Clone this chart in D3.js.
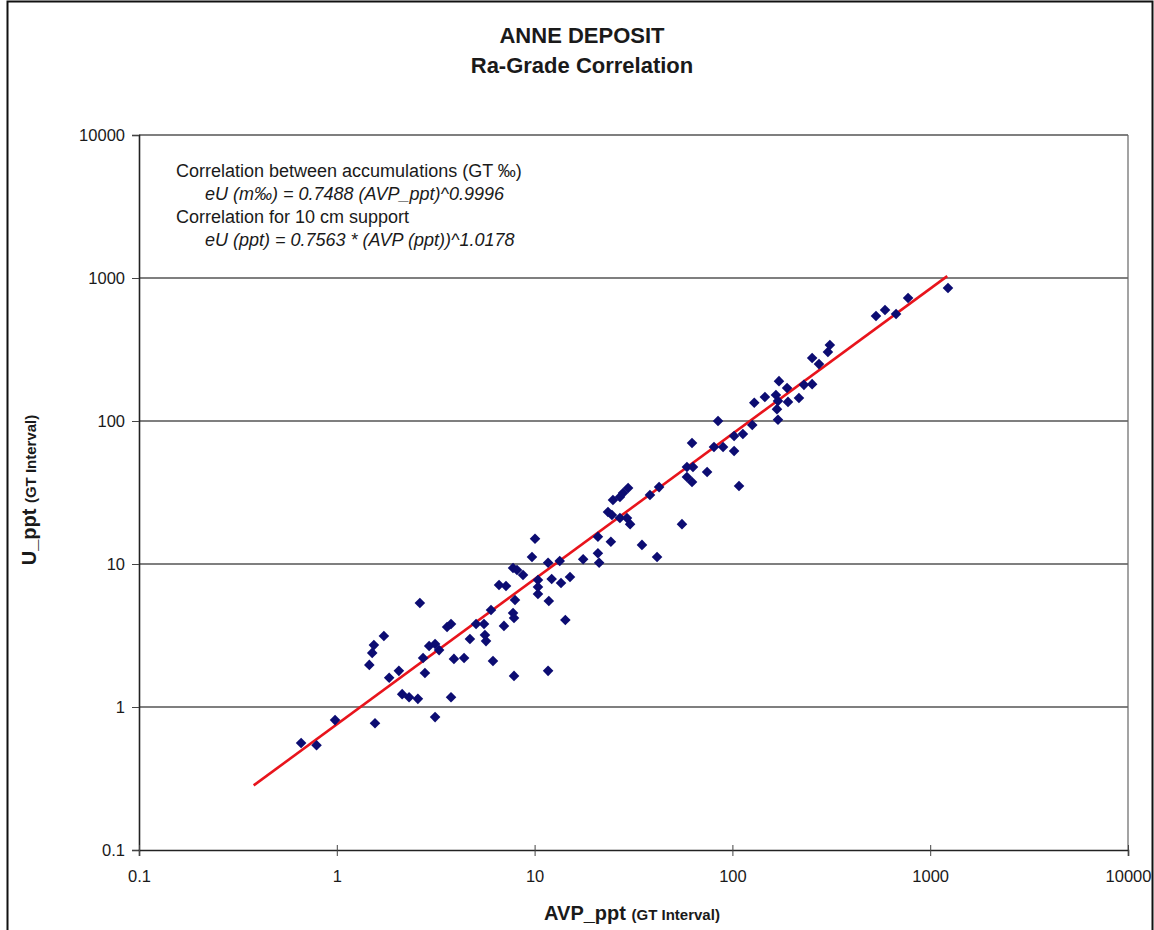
<!DOCTYPE html>
<html>
<head>
<meta charset="utf-8">
<script src="https://cdn.jsdelivr.net/npm/d3@7"></script>
<style>
  body { margin: 0; background: #fff; }
  text { font-family: "Liberation Sans", Arial, sans-serif; fill: #1a1a1a; }
</style>
</head>
<body>
<div id="chart"></div>
<script>
// AVP_ppt (x) vs U_ppt (y)
const avp = [0.66, 0.79, 0.98, 1.56, 1.46, 1.51, 1.54, 1.73, 1.84, 2.06,
  2.14, 2.32, 2.57, 3.14, 2.63, 2.79, 2.73, 2.93, 3.14, 3.29,
  3.61, 3.78, 3.91, 4.40, 3.78, 4.71, 5.06, 5.55, 5.61, 5.68,
  6.16, 7.0, 6.02, 7.78, 7.87, 7.96, 7.87, 6.61, 7.17, 7.78,
  8.15, 8.74, 10.05, 9.7, 10.4, 10.4, 10.4, 11.8, 11.7, 12.2,
  13.4, 13.6, 15.1, 14.3, 11.7, 17.6, 20.9, 21.2, 20.9, 24.3,
  34.9, 41.6, 23.5, 24.6, 27.0, 29.3, 30.4, 24.9, 27.0, 28.0,
  29.7, 38.3, 42.6, 55.6, 58.9, 63.2, 58.9, 62.5, 62.5, 74.5,
  80.7, 89.7, 102, 84.6, 102, 113, 108, 126, 129, 146,
  166, 170, 168, 170, 172, 189, 191, 217, 230, 253,
  253, 274, 304, 311, 532, 591, 672, 773, 1230];
const eu = [0.56, 0.54, 0.81, 0.77, 1.97, 2.39, 2.71, 3.14, 1.60, 1.79,
  1.23, 1.17, 1.14, 0.85, 5.34, 1.73, 2.20, 2.67, 2.76, 2.50,
  3.63, 3.81, 2.17, 2.20, 1.17, 2.99, 3.81, 3.81, 3.19, 2.89,
  2.10, 3.69, 4.77, 4.54, 4.19, 5.60, 1.65, 7.13, 7.02, 9.38,
  9.08, 8.38, 15.0, 11.2, 7.73, 6.90, 6.17, 5.51, 10.2, 7.85,
  10.5, 7.36, 8.11, 4.06, 1.79, 10.8, 11.9, 10.2, 15.5, 14.3,
  13.6, 11.2, 23.1, 22.0, 21.0, 21.0, 19.0, 28.0, 29.4, 31.4,
  34.0, 30.4, 34.5, 19.0, 47.7, 47.7, 40.6, 37.4, 70.2, 44.0,
  65.8, 65.8, 61.7, 100, 78.5, 81.1, 35.1, 93.7, 134, 147,
  152, 138, 121, 102, 190, 170, 136, 145, 179, 181,
  276, 250, 304, 340, 542, 597, 560, 725, 851];

// fitted power law end points (10 cm support)
const trendAvp = [0.38, 1220];
const trendEu = [0.283, 1030];

const xTicks = [0.1, 1, 10, 100, 1000, 10000];
const yTicks = [0.1, 1, 10, 100, 1000, 10000];

const titleLines = ["ANNE DEPOSIT", "Ra-Grade Correlation"];
const notes = [
  { text: "Correlation between accumulations (GT \u2030)", italic: false, indent: 0 },
  { text: "eU (m\u2030) = 0.7488 (AVP_ppt)^0.9996", italic: true, indent: 1 },
  { text: "Correlation for 10 cm support", italic: false, indent: 0 },
  { text: "eU (ppt) = 0.7563 * (AVP (ppt))^1.0178", italic: true, indent: 1 }
];

const W = 1154, H = 930;
const plot = { left: 139, right: 1128, top: 135, bottom: 850 };

const svg = d3.select("#chart").append("svg")
  .attr("width", W).attr("height", H);

svg.append("rect").attr("width", W).attr("height", H).attr("fill", "#fff");
// outer frame
svg.append("rect")
  .attr("x", 7.5).attr("y", 1.5)
  .attr("width", 1145).attr("height", 960)
  .attr("fill", "none").attr("stroke", "#111").attr("stroke-width", 2);

const x = d3.scaleLog().domain([0.1, 10000]).range([plot.left, plot.right]);
const y = d3.scaleLog().domain([0.1, 10000]).range([plot.bottom, plot.top]);

// horizontal grid lines
svg.append("g")
  .selectAll("line")
  .data(yTicks.filter(d => d > 0.1))
  .join("line")
  .attr("x1", plot.left).attr("x2", plot.right)
  .attr("y1", d => y(d)).attr("y2", d => y(d))
  .attr("stroke", "#555").attr("stroke-width", 1.3);

// right border
svg.append("line")
  .attr("x1", plot.right).attr("x2", plot.right)
  .attr("y1", plot.top).attr("y2", plot.bottom)
  .attr("stroke", "#666").attr("stroke-width", 1.2);

// Y axis
const yAxis = svg.append("g")
  .attr("transform", `translate(${plot.left},0)`)
  .call(d3.axisLeft(y).tickValues(yTicks).tickFormat(d => String(d)).tickSize(7).tickPadding(7));
yAxis.select(".domain").attr("stroke", "#222").attr("stroke-width", 1.6);
yAxis.selectAll(".tick line").attr("stroke", "#444");
yAxis.selectAll("text").style("font-size", "16.5px").attr("fill", "#1a1a1a");

// X axis
const xAxis = svg.append("g")
  .attr("transform", `translate(0,${plot.bottom})`)
  .call(d3.axisBottom(x).tickValues(xTicks).tickFormat(d => String(d)).tickSize(6).tickPadding(14));
xAxis.select(".domain").attr("stroke", "#222").attr("stroke-width", 1.6);
xAxis.selectAll(".tick line").attr("stroke", "#444").attr("y1", -5);
xAxis.selectAll("text").style("font-size", "16.5px").attr("fill", "#1a1a1a");

// trend line
const trend = trendAvp.map((v, i) => [v, trendEu[i]]);
svg.append("path")
  .datum(trend)
  .attr("d", d3.line().x(d => x(d[0])).y(d => y(d[1])))
  .attr("stroke", "#e8141c").attr("stroke-width", 2.6).attr("fill", "none");

// points (diamonds)
const diamond = d3.symbol().type(d3.symbolSquare).size(56);
svg.append("g")
  .selectAll("path")
  .data(avp.map((v, i) => [v, eu[i]]))
  .join("path")
  .attr("d", diamond)
  .attr("transform", d => `translate(${x(d[0])},${y(d[1])}) rotate(45)`)
  .attr("fill", "#0c0c72");

// titles
svg.append("g")
  .selectAll("text")
  .data(titleLines)
  .join("text")
  .attr("x", 582).attr("y", (d, i) => 43 + i * 30)
  .attr("text-anchor", "middle")
  .style("font-size", "22px").style("font-weight", "bold")
  .text(d => d);

// annotation
svg.append("g")
  .selectAll("text")
  .data(notes)
  .join("text")
  .attr("x", d => 176 + d.indent * 29)
  .attr("y", (d, i) => 177 + i * 23)
  .style("font-size", "18px")
  .style("font-style", d => d.italic ? "italic" : "normal")
  .text(d => d.text);

// axis titles
const xt = svg.append("text")
  .attr("x", 632).attr("y", 920)
  .attr("text-anchor", "middle")
  .style("font-weight", "bold");
xt.append("tspan").style("font-size", "20px").text("AVP_ppt ");
xt.append("tspan").style("font-size", "15px").text("(GT Interval)");

const yt = svg.append("text")
  .attr("transform", "translate(36,490) rotate(-90)")
  .attr("text-anchor", "middle")
  .style("font-weight", "bold");
yt.append("tspan").style("font-size", "20px").text("U_ppt ");
yt.append("tspan").style("font-size", "15px").text("(GT Interval)");
</script>
</body>
</html>
